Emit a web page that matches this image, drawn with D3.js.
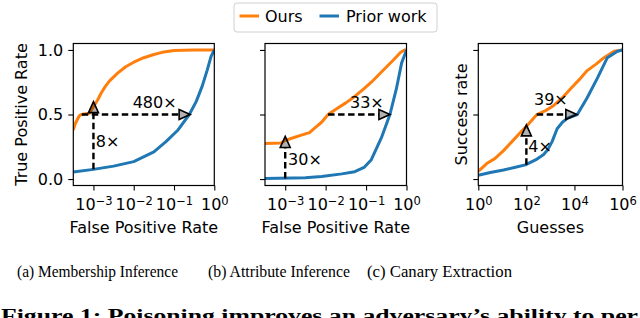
<!DOCTYPE html>
<html>
<head>
<meta charset="utf-8">
<script src="https://cdn.jsdelivr.net/npm/d3@7"></script>
<style>
  body { margin: 0; background: #fff; }
  svg { display: block; }
</style>
</head>
<body>
<script>
var W = 640, H = 318;

// series: x values are log10 of FPR / guesses, y values are rates
var oursA_x  = [-3.5, -3.45, -3.35, -3.3, -3.1, -3.0, -2.9, -2.8, -2.7, -2.6, -2.4, -2.2, -2.0, -1.75, -1.5, -1.25, -1.0, -0.5, 0];
var oursA_y  = [0.38, 0.43, 0.49, 0.50, 0.51, 0.56, 0.61, 0.67, 0.72, 0.76, 0.82, 0.87, 0.905, 0.94, 0.965, 0.985, 0.995, 1.0, 1.0];
var priorA_x = [-3.5, -3.0, -2.5, -2.0, -1.5, -1.2, -0.9, -0.62, -0.45, -0.3, -0.18, -0.08, 0];
var priorA_y = [0.055, 0.075, 0.10, 0.135, 0.21, 0.29, 0.38, 0.50, 0.60, 0.72, 0.84, 0.95, 1.0];

var oursB_x  = [-3.5, -3.1, -3.0, -2.8, -2.6, -2.4, -2.25, -2.1, -1.94, -1.7, -1.5, -1.28, -1.05, -0.87, -0.65, -0.46, -0.3, -0.15, -0.05, 0];
var oursB_y  = [0.275, 0.28, 0.30, 0.32, 0.34, 0.36, 0.40, 0.44, 0.50, 0.55, 0.59, 0.64, 0.70, 0.75, 0.82, 0.88, 0.93, 0.98, 1.0, 1.0];
var priorB_x = [-3.5, -2.5, -2.1, -1.6, -1.28, -1.05, -0.87, -0.62, -0.41, -0.25, -0.12, -0.01, 0];
var priorB_y = [0.005, 0.01, 0.02, 0.04, 0.057, 0.09, 0.15, 0.32, 0.50, 0.70, 0.90, 0.99, 1.0];

var oursC_x  = [0, 0.35, 0.7, 1.05, 1.4, 1.75, 1.96, 2.2, 2.44, 2.8, 3.14, 3.5, 3.84, 4.2, 4.53, 4.9, 5.23, 5.65, 6];
var oursC_y  = [0.06, 0.12, 0.16, 0.22, 0.29, 0.36, 0.40, 0.45, 0.50, 0.53, 0.57, 0.63, 0.70, 0.77, 0.84, 0.89, 0.94, 0.99, 1.0];
var priorC_x = [0, 0.5, 1.05, 1.5, 1.96, 2.4, 2.72, 2.9, 3.07, 3.28, 3.5, 3.7, 4.12, 4.53, 4.95, 5.37, 5.79, 6];
var priorC_y = [0.03, 0.05, 0.07, 0.09, 0.11, 0.15, 0.19, 0.23, 0.29, 0.39, 0.44, 0.47, 0.50, 0.63, 0.78, 0.94, 0.99, 1.0];

// annotations: [x0, y0, x1, y1] in data units (x as log10)
var arrowsA = [[-3, 0.075, -3, 0.60], [-3.29, 0.5, -0.60, 0.5]];
var arrowsB = [[-3, 0.005, -3, 0.33], [-1.94, 0.5, -0.41, 0.5]];
var arrowsC = [[2, 0.11, 2, 0.42], [2.43, 0.5, 4.1, 0.5]];
var labelsA = [["480×", -1.48, 0.55, "middle"], ["8×", -2.94, 0.25, "start"]];
var labelsB = [["33×", -0.98, 0.55, "middle"], ["30×", -2.93, 0.11, "start"]];
var labelsC = [["39×", 3.02, 0.57, "middle"], ["4×", 2.08, 0.21, "start"]];

var yTicks = [0, 0.5, 1.0];
var yTickLabels = ["0.0", "0.5", "1.0"];
var xTicksAB = [-3, -2, -1, 0];
var xTicksC = [0, 2, 4, 6];
var legendNames = ["Ours", "Prior work"];
var captions = ["(a) Membership Inference", "(b) Attribute Inference", "(c) Canary Extraction"];
var figCaption = "Figure 1: Poisoning improves an adversary’s ability to per";

var ORANGE = "#ff7f0e", BLUE = "#1f77b4";
var FONT = "DejaVu Sans";

var svg = d3.select("body").append("svg").attr("width", W).attr("height", H);

function drawPanel(p) {
  var x = d3.scaleLog().domain([Math.pow(10, p.xmin), Math.pow(10, p.xmax)]).range([p.left, p.right]);
  var y = d3.scaleLinear().domain([-0.05, 1.05]).range([185.5, 43.5]);
  var g = svg.append("g");

  var clipId = "clip" + p.id;
  g.append("clipPath").attr("id", clipId).append("rect")
    .attr("x", p.left).attr("y", 43.5).attr("width", p.right - p.left).attr("height", 142);

  var line = d3.line().x(function(d){ return x(Math.pow(10, d[0])); }).y(function(d){ return y(d[1]); });

  var series = [[p.ours_x, p.ours_y, ORANGE], [p.prior_x, p.prior_y, BLUE]];
  series.forEach(function(s){
    g.append("path")
      .datum(d3.zip(s[0], s[1]))
      .attr("clip-path", "url(#" + clipId + ")")
      .attr("fill", "none").attr("stroke", s[2]).attr("stroke-width", 3)
      .attr("stroke-linejoin", "round")
      .attr("d", line);
  });

  // dashed arrows
  p.arrows.forEach(function(a){
    var x0 = x(Math.pow(10, a[0])), y0 = y(a[1]), x1 = x(Math.pow(10, a[2])), y1 = y(a[3]);
    var dx = x1 - x0, dy = y1 - y0, len = Math.sqrt(dx*dx + dy*dy);
    var ux = dx/len, uy = dy/len, hl = 11, hw = 5;
    var bx = x1 - ux*hl, by = y1 - uy*hl;
    g.append("line").attr("x1", x0).attr("y1", y0).attr("x2", bx).attr("y2", by)
      .attr("stroke", "#000").attr("stroke-width", 2.4).attr("stroke-dasharray", "6.5,3.5");
    g.append("path")
      .attr("d", "M" + x1 + "," + y1 + "L" + (bx - uy*hw) + "," + (by + ux*hw) + "L" + (bx + uy*hw) + "," + (by - ux*hw) + "Z")
      .attr("fill", "rgba(0,0,0,0.3)").attr("stroke", "#000").attr("stroke-width", 1.6)
      .attr("stroke-linejoin", "miter");
  });

  p.labels.forEach(function(l){
    g.append("text").attr("x", x(Math.pow(10, l[1]))).attr("y", y(l[2]))
      .attr("text-anchor", l[3]).attr("font-family", FONT).attr("font-size", 16)
      .text(l[0]);
  });

  // frame
  g.append("rect").attr("x", p.left).attr("y", 43.5).attr("width", p.right - p.left).attr("height", 142)
    .attr("fill", "none").attr("stroke", "#000").attr("stroke-width", 1.2);

  // x axis
  var xa = g.append("g").attr("transform", "translate(0,185.5)")
    .call(d3.axisBottom(x).tickValues(p.xticks.map(function(e){ return Math.pow(10, e); }))
      .tickSize(5).tickPadding(8.5).tickFormat(function(){ return ""; }));
  xa.select(".domain").remove();
  xa.selectAll(".tick line").attr("stroke-width", 1.1);
  xa.selectAll(".tick text").each(function(d, i){
    var t = d3.select(this).attr("font-family", FONT).attr("font-size", 16).attr("fill", "#000");
    t.append("tspan").text("10");
    t.append("tspan").attr("dy", "-0.45em").attr("font-size", 11.5)
      .text(String(p.xticks[i]).replace("-", "−"));
  });

  // y axis
  var ya = g.append("g").attr("transform", "translate(" + p.left + ",0)")
    .call(d3.axisLeft(y).tickValues(yTicks).tickSize(5).tickPadding(5)
      .tickFormat(function(d, i){ return p.showY ? yTickLabels[i] : ""; }));
  ya.select(".domain").remove();
  ya.selectAll(".tick line").attr("stroke-width", 1.1);
  ya.selectAll(".tick text").attr("font-family", FONT).attr("font-size", 16).attr("fill", "#000");

  // axis titles
  g.append("text").attr("x", (p.left + p.right) / 2).attr("y", 233)
    .attr("text-anchor", "middle").attr("font-family", FONT).attr("font-size", 16).text(p.xlabel);
  g.append("text").attr("transform", "translate(" + p.ylabelX + ",114.5) rotate(-90)")
    .attr("text-anchor", "middle").attr("font-family", FONT).attr("font-size", 16).text(p.ylabel);
}

drawPanel({ id: "a", left: 73.3, right: 214.3, xmin: -3.5, xmax: 0, xticks: xTicksAB, showY: true,
  ours_x: oursA_x, ours_y: oursA_y, prior_x: priorA_x, prior_y: priorA_y,
  arrows: arrowsA, labels: labelsA, xlabel: "False Positive Rate", ylabel: "True Positive Rate", ylabelX: 26.5 });
drawPanel({ id: "b", left: 265, right: 406.5, xmin: -3.5, xmax: 0, xticks: xTicksAB, showY: false,
  ours_x: oursB_x, ours_y: oursB_y, prior_x: priorB_x, prior_y: priorB_y,
  arrows: arrowsB, labels: labelsB, xlabel: "False Positive Rate", ylabel: "", ylabelX: 0 });
drawPanel({ id: "c", left: 478.3, right: 622.5, xmin: 0, xmax: 6, xticks: xTicksC, showY: false,
  ours_x: oursC_x, ours_y: oursC_y, prior_x: priorC_x, prior_y: priorC_y,
  arrows: arrowsC, labels: labelsC, xlabel: "Guesses", ylabel: "Success rate", ylabelX: 466.5 });

// legend
var lg = svg.append("g");
lg.append("rect").attr("x", 234).attr("y", 3).attr("width", 203).attr("height", 29).attr("rx", 3)
  .attr("fill", "#fff").attr("stroke", "#d0d0d0").attr("stroke-width", 1);
var legX = [[239.5, 265], [319.5, 346]];
[ORANGE, BLUE].forEach(function(c, i){
  lg.append("line").attr("x1", legX[i][0]).attr("x2", legX[i][0] + 19.5).attr("y1", 16).attr("y2", 16)
    .attr("stroke", c).attr("stroke-width", 3);
  lg.append("text").attr("x", legX[i][1]).attr("y", 21.7).attr("font-family", FONT).attr("font-size", 16)
    .text(legendNames[i]);
});

// captions
var capX = [[17, 161], [208, 142], [367, 145]];
captions.forEach(function(c, i){
  svg.append("text").attr("x", capX[i][0]).attr("y", 277).attr("font-family", "Liberation Serif")
    .attr("font-size", 17).attr("textLength", capX[i][1]).attr("lengthAdjust", "spacingAndGlyphs").text(c);
});
svg.append("text").attr("x", 1).attr("y", 321.5).attr("font-family", "Liberation Serif")
  .attr("font-weight", "bold").attr("font-size", 18).attr("textLength", 637)
  .attr("lengthAdjust", "spacingAndGlyphs").text(figCaption);
</script>
</body>
</html>
